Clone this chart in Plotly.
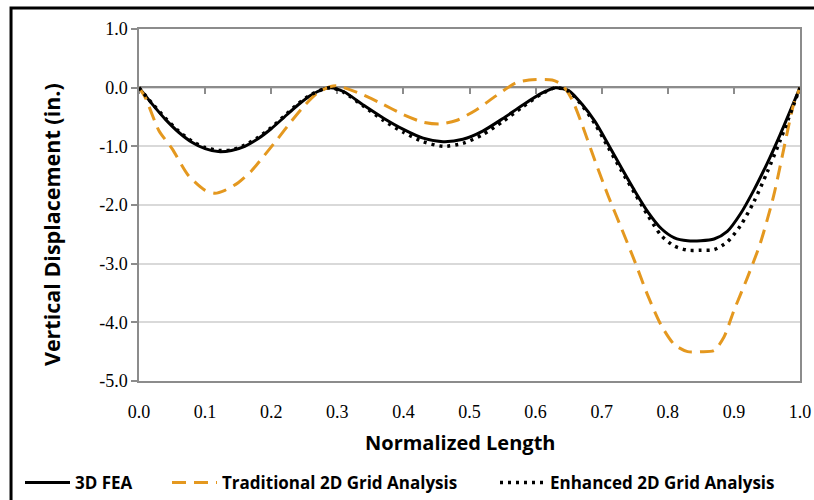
import plotly.graph_objects as go

# normalized length positions and vertical displacement (in.)
fea_x = [0, 0.02, 0.04, 0.06, 0.08, 0.10, 0.12, 0.14, 0.16, 0.18, 0.20, 0.22, 0.24, 0.26,
         0.28, 0.29, 0.31, 0.34, 0.37, 0.40, 0.43, 0.46, 0.49, 0.52, 0.55, 0.58, 0.61, 0.63,
         0.65, 0.67, 0.69, 0.71, 0.73, 0.75, 0.77, 0.79, 0.81, 0.83, 0.85, 0.87, 0.89, 0.91,
         0.93, 0.95, 0.97, 1.0]
fea_y = [0, -0.28, -0.54, -0.76, -0.93, -1.04, -1.09, -1.07, -1.00, -0.87, -0.70, -0.50,
         -0.30, -0.13, -0.02, 0.0, -0.07, -0.30, -0.52, -0.71, -0.86, -0.92, -0.88, -0.74,
         -0.53, -0.30, -0.09, 0.0, -0.05, -0.28, -0.58, -0.97, -1.37, -1.76, -2.12, -2.40,
         -2.56, -2.61, -2.61, -2.58, -2.45, -2.15, -1.75, -1.30, -0.80, 0.0]

enh_x = fea_x
enh_y = [0, -0.27, -0.52, -0.74, -0.91, -1.02, -1.07, -1.06, -0.98, -0.85, -0.68, -0.48,
         -0.28, -0.12, -0.02, 0.0, -0.08, -0.32, -0.56, -0.76, -0.92, -1.00, -0.95, -0.80,
         -0.58, -0.33, -0.10, 0.0, -0.06, -0.30, -0.62, -1.02, -1.42, -1.80, -2.18, -2.52,
         -2.70, -2.77, -2.77, -2.76, -2.63, -2.35, -1.95, -1.45, -0.90, 0.0]

trad_x = [0, 0.01, 0.03, 0.05, 0.075, 0.10, 0.115, 0.13, 0.15, 0.17, 0.19, 0.21, 0.23, 0.25,
          0.27, 0.29, 0.30, 0.33, 0.365, 0.40, 0.43, 0.455, 0.48, 0.51, 0.54, 0.57, 0.59,
          0.625, 0.64, 0.655, 0.67, 0.69, 0.71, 0.73, 0.75, 0.77, 0.79, 0.81, 0.83, 0.85,
          0.87, 0.885, 0.90, 0.92, 0.94, 0.96, 0.98, 0.99, 1.0]
trad_y = [0, -0.18, -0.73, -1.04, -1.50, -1.75, -1.80, -1.75, -1.62, -1.42, -1.15, -0.87,
          -0.58, -0.31, -0.09, 0.02, 0.03, -0.08, -0.26, -0.46, -0.59, -0.62, -0.56, -0.38,
          -0.14, 0.08, 0.13, 0.13, 0.05, -0.20, -0.62, -1.25, -1.85, -2.40, -2.96, -3.55,
          -4.05, -4.38, -4.50, -4.50, -4.48, -4.25, -3.80, -3.25, -2.65, -1.85, -0.80, -0.30, 0.0]

x_ticks = [0.0, 0.1, 0.2, 0.3, 0.4, 0.5, 0.6, 0.7, 0.8, 0.9, 1.0]
y_ticks = [1.0, 0.0, -1.0, -2.0, -3.0, -4.0, -5.0]

ORANGE = '#E4981F'
AXIS_GREY = '#8C8C8C'
GRID_GREY = '#D9D9D9'
SANS = 'Open Sans, Lato, sans-serif'
SERIF = 'Liberation Serif, Times New Roman, serif'
SMOOTH = 0.7

FIG_W, FIG_H = 814, 500

fig = go.Figure()
fig.add_trace(go.Scatter(
    x=fea_x, y=fea_y, name='3D FEA', mode='lines',
    line=dict(color='black', width=3, shape='spline', smoothing=SMOOTH),
    legend='legend',
))
fig.add_trace(go.Scatter(
    x=trad_x, y=trad_y, name='Traditional 2D Grid Analysis', mode='lines',
    line=dict(color=ORANGE, width=3, dash='14px,8px', shape='spline', smoothing=SMOOTH),
    legend='legend2',
))
fig.add_trace(go.Scatter(
    x=enh_x, y=enh_y, name='Enhanced 2D Grid Analysis', mode='lines',
    line=dict(color='black', width=3.5, dash='3px,5px', shape='spline', smoothing=SMOOTH),
    legend='legend3',
))
# empty helper trace so the zero-line axis (x2) gets drawn
fig.add_trace(go.Scatter(
    x=[0.5], y=[0], xaxis='x2', mode='none', showlegend=False, hoverinfo='skip',
))

legend_common = dict(
    orientation='h', xref='container', yref='container', yanchor='middle',
    y=1 - 483 / FIG_H, xanchor='left',
    font=dict(family=SANS, size=17, color='black', weight='bold'),
    bgcolor='rgba(0,0,0,0)', itemwidth=45,
)

fig.update_layout(
    width=FIG_W,
    height=FIG_H,
    margin=dict(l=139, r=FIG_W - 800, t=29, b=FIG_H - 381, autoexpand=False),
    paper_bgcolor='white',
    plot_bgcolor='white',
    showlegend=True,
    legend=dict(x=20 / FIG_W, **legend_common),
    legend2=dict(x=167 / FIG_W, **legend_common),
    legend3=dict(x=495 / FIG_W, **legend_common),
    xaxis=dict(
        range=[0, 1], tickvals=x_ticks, ticktext=[f'{v:.1f}' for v in x_ticks],
        showgrid=False, zeroline=False, showline=True, linecolor=AXIS_GREY,
        linewidth=1.5, mirror=True, ticks='', ticklabelstandoff=14,
        ticklabeloverflow='allow',
        tickfont=dict(family=SERIF, size=18, color='black'),
    ),
    xaxis2=dict(
        range=[0, 1], overlaying='x', anchor='free', position=(381 - 87) / 352,
        tickvals=x_ticks, showticklabels=False, showgrid=False, zeroline=False,
        showline=True, linecolor=AXIS_GREY, linewidth=1.5, ticks='outside',
        ticklen=6, tickwidth=1.5, tickcolor=AXIS_GREY, layer='below traces',
    ),
    yaxis=dict(
        range=[-5, 1], tickvals=y_ticks, ticktext=[f'{v:.1f}' for v in y_ticks],
        showgrid=True, gridcolor=GRID_GREY, gridwidth=1.5, zeroline=False,
        showline=True, linecolor=AXIS_GREY, linewidth=1.5, mirror=True,
        ticks='outside', ticklen=6, tickwidth=1.5, tickcolor=AXIS_GREY,
        tickfont=dict(family=SERIF, size=18, color='black'),
    ),
    annotations=[
        dict(text='Normalized Length', xref='paper', yref='paper', x=0.4856, y=-0.176,
             showarrow=False, xanchor='center', yanchor='middle',
             font=dict(family=SANS, size=20, color='black', weight='bold')),
        dict(text='Vertical Displacement (in.)', xref='paper', yref='paper',
             x=-0.1331, y=0.443, textangle=-90, showarrow=False,
             xanchor='center', yanchor='middle',
             font=dict(family=SANS, size=21.5, color='black', weight='bold')),
    ],
    shapes=[
        dict(type='rect', xref='paper', yref='paper', x0=-0.1936, x1=1.2,
             y0=-0.5, y1=1.0597, line=dict(color='black', width=3), layer='below'),
    ],
)

# drop the default body margin so the figure fills the window exactly
fig.write_html(
    'out.html',
    config={'displayModeBar': False},
    post_script="document.body.style.margin = '0';",
)
